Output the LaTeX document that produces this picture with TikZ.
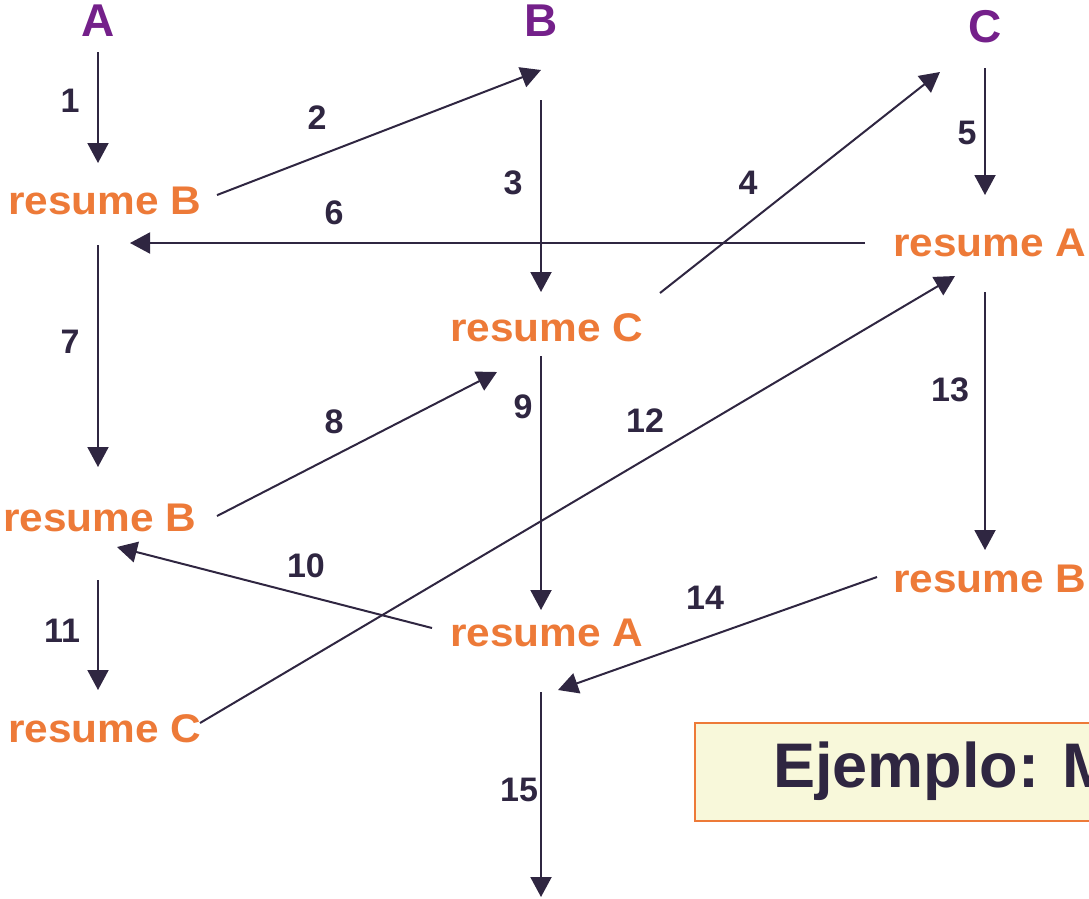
\documentclass[tikz,border=0pt]{standalone}
\usepackage{fontspec}
\setmainfont{Liberation Sans}
\newfontfamily\wfont[FakeStretch=1.06]{Liberation Sans}
\usetikzlibrary{arrows.meta}
\definecolor{arr}{HTML}{2F2641}
\definecolor{org}{HTML}{ED7A38}
\definecolor{pur}{HTML}{74208A}
\definecolor{boxfill}{HTML}{F8F8DA}
\tikzset{
  proc/.style={font=\bfseries\fontsize{46}{46}\selectfont, text=pur, inner sep=0pt},
  res/.style={font=\wfont\bfseries\fontsize{40}{40}\selectfont, text=org, inner sep=0pt},
  num/.style={font=\bfseries\fontsize{34}{34}\selectfont, text=arr, inner sep=0pt},
  msg/.style={draw=arr, line width=2pt, -{Triangle[length=20pt,width=21pt]}},
}
\begin{document}
\begin{tikzpicture}[x=1pt,y=-1pt]
\useasboundingbox (0,0) rectangle (1089,898);
\clip (0,0) rectangle (1089,898);
% process names
\node[proc] (A) at (98,21) {A};
\node[proc] (B) at (541,21) {B};
\node[proc] (C) at (985,27) {C};
% resume texts
\node[res, anchor=west] (rB1) at (8,201) {resume B};
\node[res, anchor=west] (rA1) at (893,243) {resume A};
\node[res, anchor=west] (rC1) at (450,328) {resume C};
\node[res, anchor=west] (rB2) at (3,518) {resume B};
\node[res, anchor=west] (rA2) at (450,633) {resume A};
\node[res, anchor=west] (rB3) at (893,579) {resume B};
\node[res, anchor=west] (rC2) at (8,729) {resume C};
% connector end points
\coordinate (a1s) at (98,52);   \coordinate (a1e) at (98,163);
\coordinate (a2s) at (217,195); \coordinate (a2e) at (541,70);
\coordinate (a3s) at (541,100); \coordinate (a3e) at (541,292);
\coordinate (a4s) at (660,293); \coordinate (a4e) at (940,72);
\coordinate (a5s) at (985,68);  \coordinate (a5e) at (985,195);
\coordinate (a6s) at (865,243); \coordinate (a6e) at (130,243);
\coordinate (a7s) at (98,245);  \coordinate (a7e) at (98,467);
\coordinate (a8s) at (217,516); \coordinate (a8e) at (497,372);
\coordinate (a9s) at (541,356); \coordinate (a9e) at (541,610);
\coordinate (a10s) at (432,628); \coordinate (a10e) at (117,547);
\coordinate (a11s) at (98,580); \coordinate (a11e) at (98,690);
\coordinate (a12s) at (200,723); \coordinate (a12e) at (955,276);
\coordinate (a13s) at (985,292); \coordinate (a13e) at (985,550);
\coordinate (a14s) at (877,577); \coordinate (a14e) at (558,690);
\coordinate (a15s) at (541,692); \coordinate (a15e) at (541,897);
% connectors
\draw[msg] (a1s) -- (a1e);
\draw[msg] (a2s) -- (a2e);
\draw[msg] (a3s) -- (a3e);
\draw[msg] (a4s) -- (a4e);
\draw[msg] (a5s) -- (a5e);
\draw[msg] (a6s) -- (a6e);
\draw[msg] (a7s) -- (a7e);
\draw[msg] (a8s) -- (a8e);
\draw[msg] (a9s) -- (a9e);
\draw[msg] (a10s) -- (a10e);
\draw[msg] (a11s) -- (a11e);
\draw[msg] (a12s) -- (a12e);
\draw[msg] (a13s) -- (a13e);
\draw[msg] (a14s) -- (a14e);
\draw[msg] (a15s) -- (a15e);
% labels
\node[num] (n1) at (70,101) {1};
\node[num] (n2) at (317,118) {2};
\node[num] (n3) at (513,183) {3};
\node[num] (n4) at (748,183) {4};
\node[num] (n5) at (967,133) {5};
\node[num] (n6) at (334,213) {6};
\node[num] (n7) at (70,342) {7};
\node[num] (n8) at (334,422) {8};
\node[num] (n9) at (523,407) {9};
\node[num] (n10) at (306,566) {10};
\node[num] (n11) at (62,631) {11};
\node[num] (n12) at (645,421) {12};
\node[num] (n13) at (950,390) {13};
\node[num] (n14) at (705,598) {14};
\node[num] (n15) at (519,790) {15};
% title box
\draw[draw=org, fill=boxfill, line width=2pt] (695,723) rectangle (1120,821);
\node[anchor=west, inner sep=0pt, text=arr, font=\bfseries\fontsize{63}{63}\selectfont] (title) at (773,771) {Ejemplo: M};
\end{tikzpicture}
\end{document}
